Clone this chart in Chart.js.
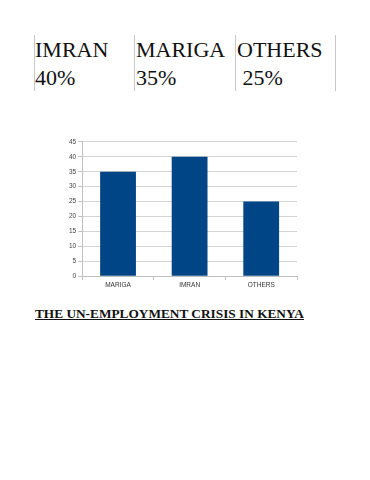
<!DOCTYPE html>
<html><head><meta charset="utf-8">
<script src="https://cdn.jsdelivr.net/npm/chart.js@4"></script>
<style>
html,body{margin:0;padding:0;background:#fff;width:370px;height:480px;overflow:hidden;}
.cell{position:absolute;font-family:"Liberation Serif","Times New Roman",serif;font-size:22px;color:#111;line-height:28px;white-space:pre;}
.vl{position:absolute;top:35px;height:56px;width:1px;background:#c8c8c8;}
#title{position:absolute;left:35px;top:306px;font-family:"Liberation Serif",serif;font-weight:bold;font-size:13.3px;text-decoration:underline;color:#111;white-space:nowrap;}
#wrap{position:absolute;left:67px;top:136px;width:238px;height:154px;}
</style></head><body>
<div class="vl" style="left:34px"></div>
<div class="vl" style="left:134px"></div>
<div class="vl" style="left:235px"></div>
<div class="vl" style="left:335px"></div>
<div id="tbl"></div>
<div id="wrap"><canvas id="c" width="238" height="154"></canvas></div>
<div id="title">THE UN-EMPLOYMENT CRISIS IN KENYA</div>
<script>
const headerNames = ["IMRAN", "MARIGA", "OTHERS"];
const headerPercents = ["40%", "35%", " 25%"];
const categories = ["MARIGA", "IMRAN", "OTHERS"];
const values = [35, 40, 25];
const yTicks = [0, 5, 10, 15, 20, 25, 30, 35, 40, 45];

const colLeft = [35, 136, 237];
const tbl = document.getElementById('tbl');
headerNames.forEach((n, i) => {
  const d = document.createElement('div');
  d.className = 'cell';
  d.style.left = colLeft[i] + 'px';
  d.style.top = '36px';
  d.textContent = n + '\n' + headerPercents[i];
  tbl.appendChild(d);
});

new Chart(document.getElementById('c'), {
  type: 'bar',
  data: { labels: categories, datasets: [{ data: values, backgroundColor: '#004586', barPercentage: 0.5, categoryPercentage: 1 }] },
  options: {
    responsive: false, animation: false,
    plugins: { legend: { display: false }, tooltip: { enabled: false } },
    layout: { padding: { left: 0, right: 8, top: 4, bottom: 0 } },
    scales: {
      x: {
        grid: { display: true, drawOnChartArea: false, offset: true, color: '#c0c0c0', tickLength: 4 },
        border: { color: '#c0c0c0' },
        ticks: { font: { family: 'Liberation Sans', size: 6.5 }, color: '#333', padding: 1 }
      },
      y: {
        min: 0, max: 45,
        afterBuildTicks: ax => { ax.ticks = yTicks.map(v => ({ value: v })); },
        grid: { color: '#d4d4d4', tickColor: '#c0c0c0', tickLength: 4 },
        border: { color: '#c0c0c0' },
        ticks: { font: { family: 'Liberation Sans', size: 6.5 }, color: '#444', padding: 2 }
      }
    }
  }
});
</script>
</body></html>
